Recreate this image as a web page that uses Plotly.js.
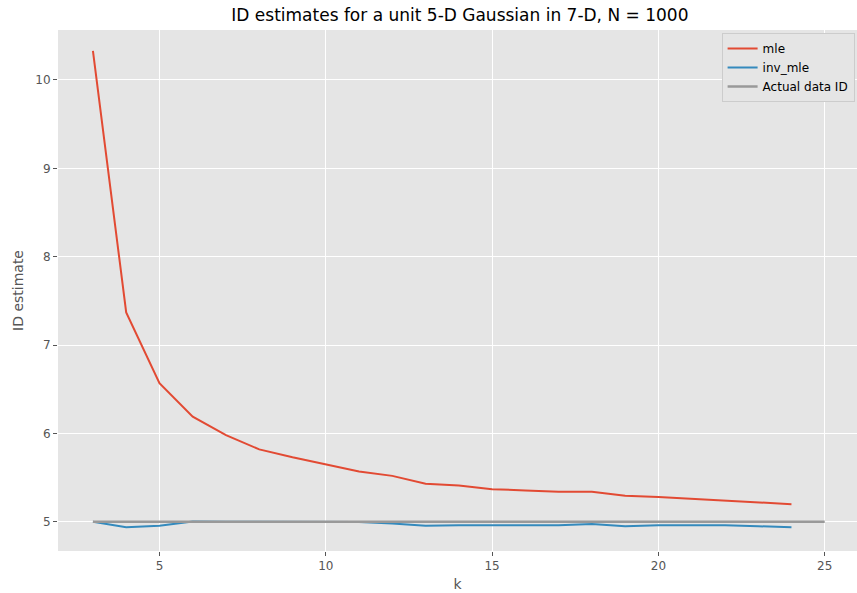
<!DOCTYPE html>
<html>
<head>
<meta charset="utf-8">
<script src="https://cdn.plot.ly/plotly-3.0.1.min.js"></script>
<style>html,body{margin:0;padding:0;background:#fff;}#chart{width:857px;height:593px;}</style>
</head>
<body>
<div id="chart"></div>
<script>
const kValues = [3,4,5,6,7,8,9,10,11,12,13,14,15,16,17,18,19,20,21,22,23,24];
const mleValues = [10.33,7.37,6.57,6.19,5.98,5.82,5.73,5.65,5.57,5.52,5.43,5.41,5.37,5.355,5.34,5.34,5.295,5.28,5.26,5.245,5.22,5.20];
const invMleValues = [5.0,4.94,4.955,5.005,5.0,4.998,5.0,5.0,4.998,4.98,4.955,4.96,4.96,4.96,4.96,4.975,4.95,4.96,4.96,4.96,4.95,4.94];
const actualK = [3,25];
const actualID = [5,5];
const seriesNames = ['mle','inv_mle','Actual data ID'];
const xTicks = [5,10,15,20,25];
const yTicks = [5,6,7,8,9,10];

const font = 'DejaVu Sans, sans-serif';
const traces = [
  {x: kValues, y: mleValues, name: seriesNames[0], mode: 'lines', line: {color: '#E24A33', width: 2}},
  {x: kValues, y: invMleValues, name: seriesNames[1], mode: 'lines', line: {color: '#348ABD', width: 2}},
  {x: actualK, y: actualID, name: seriesNames[2], mode: 'lines', line: {color: '#999999', width: 2.5}}
];
const layout = {
  width: 857, height: 593,
  margin: {l: 58, r: 0, t: 30, b: 42},
  paper_bgcolor: '#ffffff',
  plot_bgcolor: '#E5E5E5',
  font: {family: font, color: '#555555', size: 12},
  title: {text: 'ID estimates for a unit 5-D Gaussian in 7-D, N = 1000', font: {family: font, size: 17, color: '#000000'},
          xref: 'paper', x: 0.503, xanchor: 'center', yref: 'container', y: 1 - 15/593, yanchor: 'middle'},
  xaxis: {range: [1.95, 25.97], tickvals: xTicks, ticktext: xTicks.map(String), showgrid: true, gridcolor: '#ffffff', gridwidth: 1,
          zeroline: false, ticks: 'outside', ticklen: 4, tickcolor: '#555555', tickwidth: 1,
          tickfont: {family: font, size: 12, color: '#555555'},
          title: {text: 'k', font: {family: font, size: 14, color: '#555555'}, standoff: 6}},
  yaxis: {range: [4.67, 10.565], tickvals: yTicks, ticktext: yTicks.map(String), showgrid: true, gridcolor: '#ffffff', gridwidth: 1,
          zeroline: false, ticks: 'outside', ticklen: 4, tickcolor: '#555555', tickwidth: 1,
          tickfont: {family: font, size: 12, color: '#555555'},
          title: {text: 'ID estimate', font: {family: font, size: 14, color: '#555555'}, standoff: 8}},
  legend: {x: 0.997, y: 1 - 3/521, xanchor: 'right', yanchor: 'top', bgcolor: '#E5E5E5', bordercolor: '#CCCCCC', borderwidth: 1,
           font: {family: font, size: 12, color: '#000000'}, tracegroupgap: 0},
  showlegend: true
};
Plotly.newPlot('chart', traces, layout, {displayModeBar: false, staticPlot: true});
</script>
</body>
</html>
